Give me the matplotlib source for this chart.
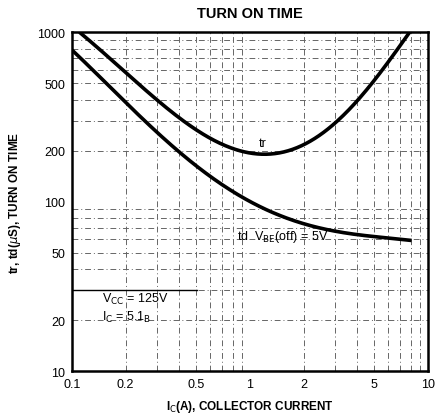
import numpy as np
import matplotlib
matplotlib.use("Agg")
import matplotlib.pyplot as plt
from matplotlib.ticker import FixedLocator, NullLocator

# values (log-log)
tr_ic = [0.11, 0.22, 0.33, 0.52, 0.62, 0.80, 1.24, 2.17, 2.58, 3.2, 4.33, 5.37, 7.9]
tr_t = [1000, 528, 367, 256, 234, 209, 185, 223, 268, 307, 421, 578, 1000]

td_ic = [0.1, 0.144, 0.22, 0.34, 0.40, 0.6, 0.96, 1.29, 2.27, 4.33, 8.1]
td_t = [776, 553, 351, 223, 190, 149, 101, 88, 71, 63.5, 59]

x_ticks = [0.1, 0.2, 0.5, 1, 2, 5, 10]
x_tick_labels = ["0.1", "0.2", "0.5", "1", "2", "5", "10"]
y_ticks = [10, 20, 50, 100, 200, 500, 1000]
y_tick_labels = ["10", "20", "50", "100", "200", "500", "1000"]

plt.rcParams['font.family'] = ['Liberation Sans', 'DejaVu Sans']


def smooth(xs, ys, deg):
    # least-squares polynomial through the read points, in log-log space
    lx = np.log10(xs)
    ly = np.log10(ys)
    coef = np.polyfit(lx, ly, deg)
    t = np.linspace(lx[0], lx[-1], 300)
    return 10 ** t, 10 ** np.polyval(coef, t)


fig = plt.figure(figsize=(4.42, 4.14), dpi=100)
ax = fig.add_axes([0.163, 0.101, 0.805, 0.819])
ax.set_xscale("log")
ax.set_yscale("log")
ax.set_xlim(0.1, 10)
ax.set_ylim(10, 1000)

sx, sy = smooth(tr_ic, tr_t, 5)
ax.plot(sx, sy, color="black", lw=2.6, solid_capstyle="butt")
sx, sy = smooth(td_ic, td_t, 4)
ax.plot(sx, sy, color="black", lw=2.6, solid_capstyle="butt")

# grid
minor_x = [m * d for d in (0.1, 1) for m in range(2, 10)]
minor_y = [m * d for d in (10, 100) for m in range(2, 10)]
ax.xaxis.set_major_locator(FixedLocator(x_ticks))
ax.xaxis.set_minor_locator(NullLocator())
ax.yaxis.set_major_locator(FixedLocator(y_ticks))
ax.yaxis.set_minor_locator(NullLocator())
ax.set_xticklabels(x_tick_labels)
ax.set_yticklabels(y_tick_labels)
for v in minor_x:
    ax.axvline(v, color="#666666", lw=0.7, ls=(0, (6, 3, 1, 3)), zorder=0)
for v in minor_y:
    ax.axhline(v, color="#666666", lw=0.7, ls=(0, (6, 3, 1, 3)), zorder=0)
ax.axhline(30, xmax=0.35, color="black", lw=1.0, zorder=0)
ax.tick_params(length=0, labelsize=9, pad=5)

for s in ax.spines.values():
    s.set_linewidth(1.8)

ax.text(1.12, 212, "tr", fontsize=9)
ax.text(0.85, 60, r"td  V$_{\rm BE}$(off) = 5V", fontsize=9)
ax.text(0.147, 25.5, r"V$_{\rm CC}$ = 125V", fontsize=9)
ax.text(0.147, 20.2, r"I$_{\rm C}$ = 5.1$_{\rm B}$", fontsize=9)

fig.text(0.565, 0.965, "TURN ON TIME", ha="center", va="center",
         fontsize=10.5, fontweight="bold")
ax.set_xlabel(r"I$_{\rm C}$(A), COLLECTOR CURRENT", fontsize=8.5,
              fontweight="bold", labelpad=6)
ax.set_ylabel(r"tr, td($\mu$S), TURN ON TIME", fontsize=8.5,
              fontweight="bold", labelpad=10)

fig.savefig("out.png", dpi=100)
